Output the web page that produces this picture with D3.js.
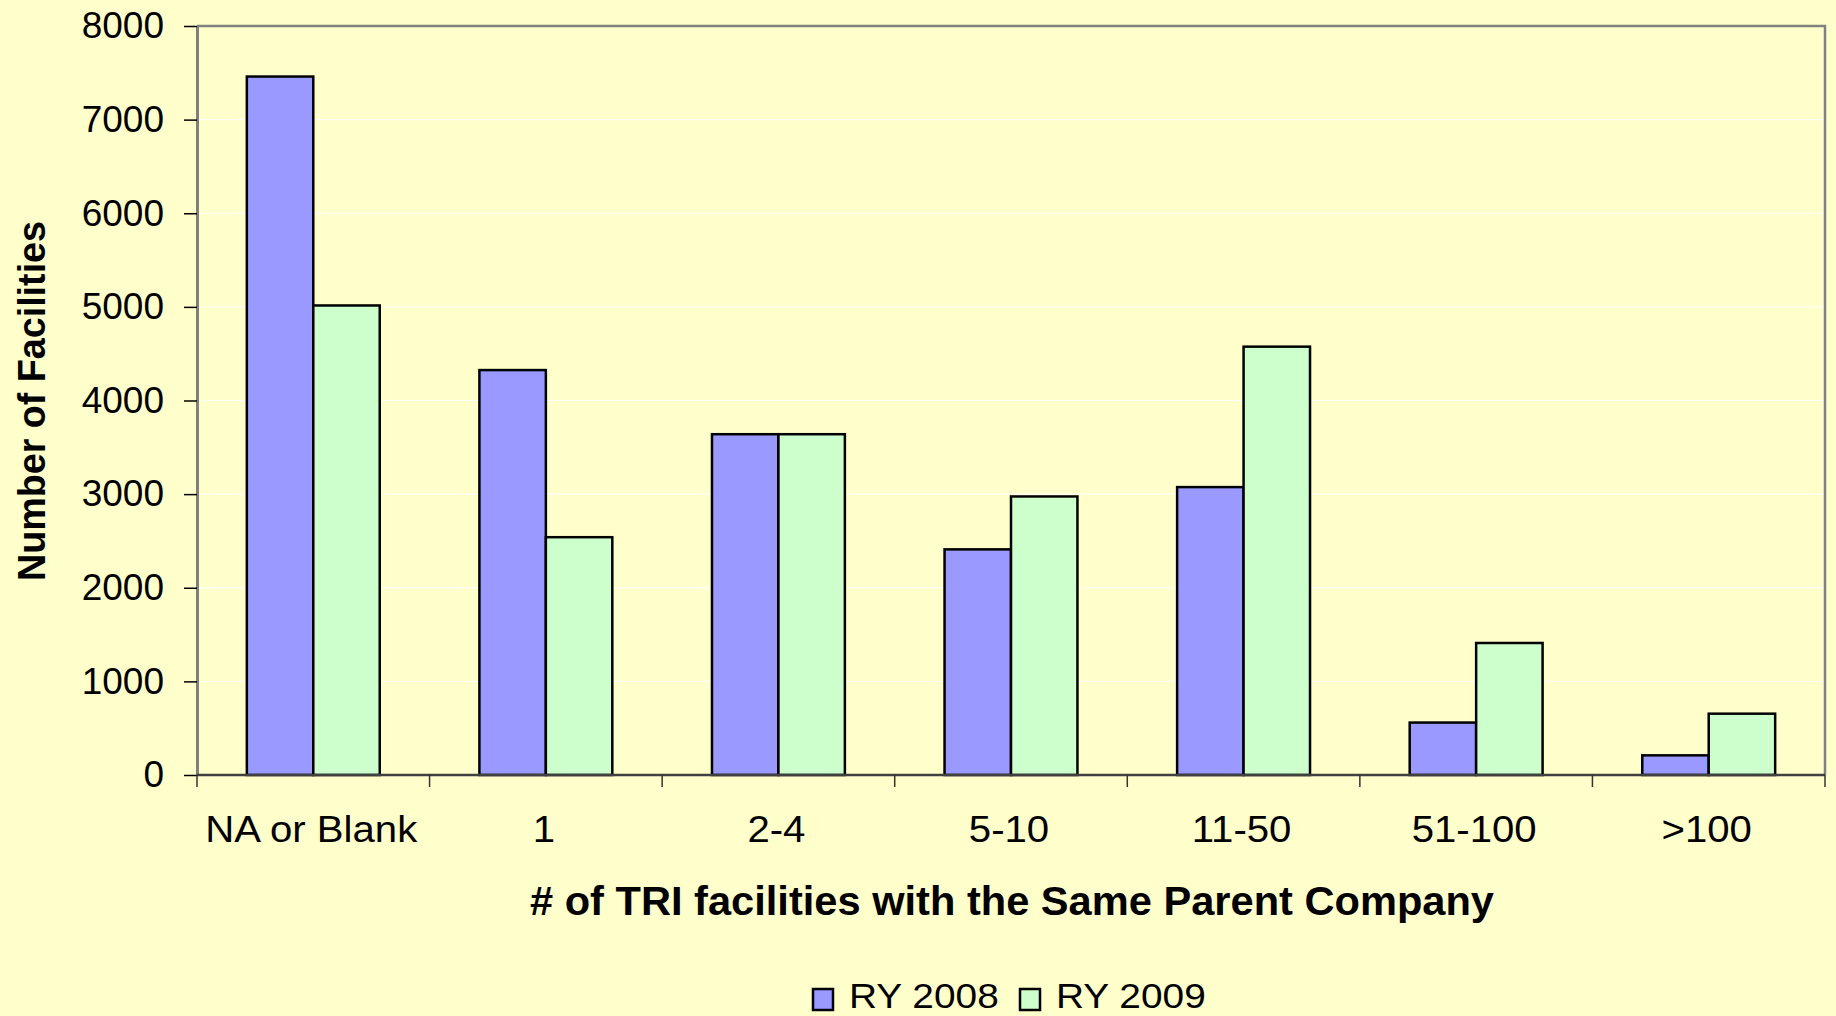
<!DOCTYPE html>
<html>
<head>
<meta charset="utf-8">
<script src="https://cdn.jsdelivr.net/npm/d3@7"></script>
<style>
  html, body { margin: 0; padding: 0; background: #FFFFCC; }
  svg { display: block; font-family: "Liberation Sans", Arial, sans-serif; }
</style>
</head>
<body>
<div id="chart"></div>
<script>
// categories and series
var categories = ["NA or Blank", "1", "2-4", "5-10", "11-50", "51-100", ">100"];
var series     = ["RY 2008", "RY 2009"];
var ry2008     = [7460, 4325, 3640, 2410, 3075, 560, 210];
var ry2009     = [5015, 2540, 3640, 2975, 4575, 1410, 655];
var yTicks     = [0, 1000, 2000, 3000, 4000, 5000, 6000, 7000, 8000];
var colors     = ["#9999FF", "#CCFFCC"];

var width = 1836, height = 1016;
var margin = {top: 26, right: 11, bottom: 241, left: 197};

var svg = d3.select("#chart")
  .append("svg")
    .attr("width", width)
    .attr("height", height);

svg.append("rect")
  .attr("width", width).attr("height", height)
  .attr("fill", "#FFFFCC");

var x = d3.scaleBand()
  .domain(categories)
  .range([margin.left, width - margin.right])
  .paddingInner(0).paddingOuter(0);

var xs = d3.scaleBand()
  .domain(series)
  .range([0, x.bandwidth()])
  .paddingInner(0).paddingOuter(0.75);

var y = d3.scaleLinear()
  .domain([0, 8000])
  .range([height - margin.bottom, margin.top]);

// white grid lines
svg.append("g")
  .selectAll("line")
  .data(yTicks.filter(function(d) { return d > 0 && d < 8000; }))
  .enter().append("line")
    .attr("x1", margin.left).attr("x2", width - margin.right)
    .attr("y1", function(d) { return y(d); })
    .attr("y2", function(d) { return y(d); })
    .attr("stroke", "#ffffff")
    .attr("stroke-width", 1);

// plot border top and right
svg.append("path")
  .attr("d", "M" + margin.left + "," + y(8000) + "H" + (width - margin.right) + "V" + y(0))
  .attr("fill", "none")
  .attr("stroke", "#808080")
  .attr("stroke-width", 2.5);

// bars
var rows = categories.map(function(c, i) {
  return {cat: c, vals: [{s: series[0], v: ry2008[i]}, {s: series[1], v: ry2009[i]}]};
});

var groups = svg.append("g")
  .selectAll("g")
  .data(rows)
  .enter().append("g")
    .attr("transform", function(d) { return "translate(" + x(d.cat) + ",0)"; });

groups.selectAll("rect")
  .data(function(d) { return d.vals; })
  .enter().append("rect")
    .attr("x", function(d) { return xs(d.s); })
    .attr("y", function(d) { return y(d.v); })
    .attr("width", xs.bandwidth())
    .attr("height", function(d) { return y(0) - y(d.v); })
    .attr("fill", function(d, i) { return colors[i]; })
    .attr("stroke", "#000")
    .attr("stroke-width", 2.5);

// y axis
var yAxis = svg.append("g")
  .attr("transform", "translate(" + margin.left + ",0)")
  .call(d3.axisLeft(y).tickValues(yTicks).tickFormat(d3.format("d"))
    .tickSize(13).tickPadding(20).tickSizeOuter(0));
yAxis.select(".domain").attr("stroke", "#808080").attr("stroke-width", 3);
yAxis.selectAll(".tick line").attr("stroke", "#000").attr("stroke-width", 1.5);
yAxis.selectAll("text")
  .attr("font-size", "37px")
  .attr("fill", "#000")
  .attr("font-family", "Liberation Sans, Arial, sans-serif");

// x axis: ticks on category boundaries
var xAxis = svg.append("g")
  .attr("transform", "translate(0," + y(0) + ")");
xAxis.append("line")
  .attr("x1", margin.left).attr("x2", width - margin.right)
  .attr("stroke", "#404040").attr("stroke-width", 2.5);
xAxis.selectAll(".bt")
  .data(categories.map(function(c) { return x(c); }).concat([width - margin.right]))
  .enter().append("line")
    .attr("class", "bt")
    .attr("x1", function(d) { return d; }).attr("x2", function(d) { return d; })
    .attr("y1", 0).attr("y2", 12)
    .attr("stroke", "#333").attr("stroke-width", 1.5);
xAxis.selectAll("text")
  .data(categories)
  .enter().append("text")
    .attr("transform", function(d) {
      return "translate(" + (x(d) + x.bandwidth() / 2 - 2) + ",67) scale(1.085,1)";
    })
    .attr("text-anchor", "middle")
    .attr("font-size", "37px")
    .text(function(d) { return d; });

// axis titles
svg.append("text")
  .attr("x", 1012).attr("y", 915)
  .attr("text-anchor", "middle")
  .attr("font-size", "41px")
  .attr("font-weight", "bold")
  .attr("textLength", 964)
  .attr("lengthAdjust", "spacingAndGlyphs")
  .text("# of TRI facilities with the Same Parent Company");

svg.append("text")
  .attr("transform", "translate(45,401) rotate(-90)")
  .attr("text-anchor", "middle")
  .attr("font-size", "38px")
  .attr("font-weight", "bold")
  .attr("textLength", 360)
  .attr("lengthAdjust", "spacingAndGlyphs")
  .text("Number of Facilities");

// legend
var legendX = [813, 1020];
var legend = svg.append("g")
  .selectAll("g")
  .data(series)
  .enter().append("g")
    .attr("transform", function(d, i) { return "translate(" + legendX[i] + ",989)"; });
legend.append("rect")
  .attr("width", 20).attr("height", 21)
  .attr("fill", function(d, i) { return colors[i]; })
  .attr("stroke", "#000").attr("stroke-width", 2.5);
legend.append("text")
  .attr("transform", "translate(36,19) scale(1.11,1)")
  .attr("font-size", "35px")
  .text(function(d) { return d; });
</script>
</body>
</html>
